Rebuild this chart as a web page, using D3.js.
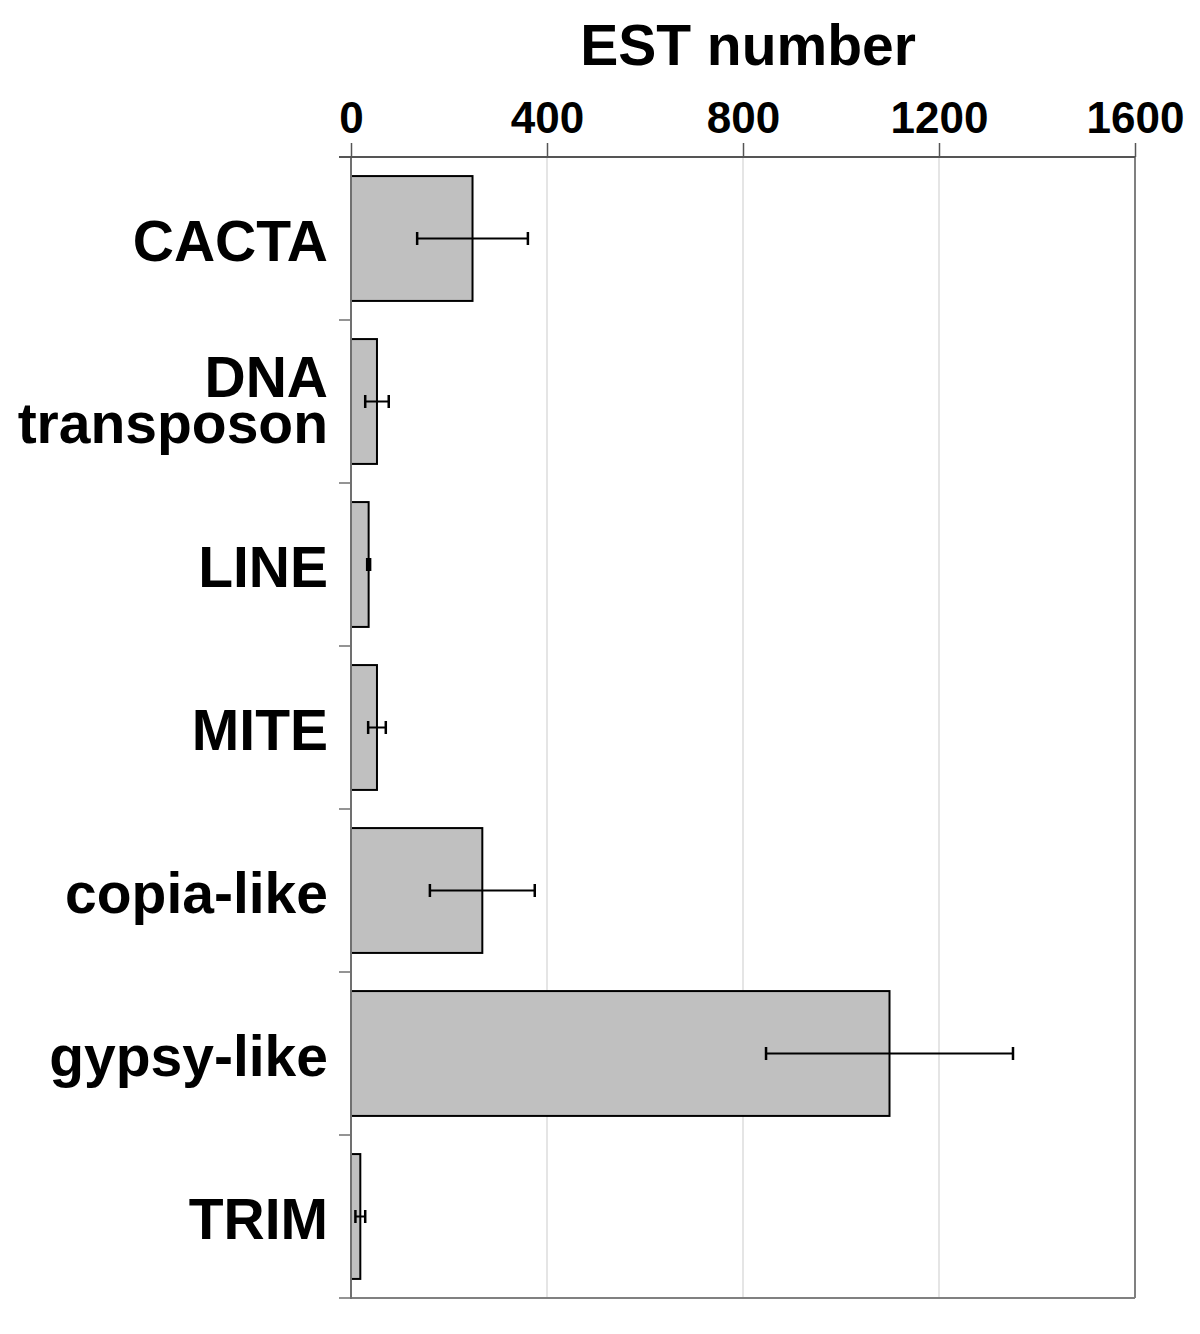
<!DOCTYPE html>
<html>
<head>
<meta charset="utf-8">
<script src="https://cdn.jsdelivr.net/npm/d3@7"></script>
<style>
  html, body { margin: 0; padding: 0; background: #fff; }
  svg { display: block; font-family: "Liberation Sans", Arial, sans-serif; }
</style>
</head>
<body>
<svg id="chart" width="1200" height="1334"></svg>
<script>
// ---- data ----
const categories = ["CACTA", "DNA transposon", "LINE", "MITE", "copia-like", "gypsy-like", "TRIM"];
const values = [248, 53, 36, 53, 268, 1099, 19];
const errors = [113, 24, 3, 18, 107, 252, 10];
const xTicks = [0, 400, 800, 1200, 1600];
const xTitle = "EST number";

// ---- layout ----
const svg = d3.select("#chart");
const pLeft = 351, pRight = 1135, pTop = 157, pBottom = 1298;

const x = d3.scaleLinear().domain([0, 1600]).range([pLeft, pRight]);
const y = d3.scaleBand().domain(categories).range([pTop, pBottom])
  .paddingInner(0.234).paddingOuter(0.117);

// gridlines
svg.append("g").selectAll("line")
  .data(xTicks.filter(d => d > 0 && d < 1600))
  .join("line")
  .attr("x1", d => x(d)).attr("x2", d => x(d))
  .attr("y1", pTop).attr("y2", pBottom)
  .attr("stroke", "#dcdcdc").attr("stroke-width", 1.5);

// border right and bottom
svg.append("line").attr("x1", pRight).attr("x2", pRight).attr("y1", pTop).attr("y2", pBottom)
  .attr("stroke", "#808080").attr("stroke-width", 2);
svg.append("line").attr("x1", pLeft).attr("x2", pRight).attr("y1", pBottom).attr("y2", pBottom)
  .attr("stroke", "#808080").attr("stroke-width", 2);

// bars
svg.append("g").selectAll("rect")
  .data(categories)
  .join("rect")
  .attr("x", x(0))
  .attr("y", d => y(d))
  .attr("width", (d, i) => x(values[i]) - x(0))
  .attr("height", y.bandwidth())
  .attr("fill", "#c0c0c0")
  .attr("stroke", "#000")
  .attr("stroke-width", 2);

// error bars
const eb = svg.append("g").attr("stroke", "#000").attr("stroke-width", 2);
categories.forEach((c, i) => {
  const cy = y(c) + y.bandwidth() / 2;
  const x1 = x(values[i] - errors[i]), x2 = x(values[i] + errors[i]);
  eb.append("line").attr("x1", x1).attr("x2", x2).attr("y1", cy).attr("y2", cy);
  eb.append("line").attr("x1", x1).attr("x2", x1).attr("y1", cy - 6.5).attr("y2", cy + 6.5).attr("stroke-width", 2.5);
  eb.append("line").attr("x1", x2).attr("x2", x2).attr("y1", cy - 6.5).attr("y2", cy + 6.5).attr("stroke-width", 2.5);
});

// left axis line + boundary ticks
svg.append("line").attr("x1", pLeft).attr("x2", pLeft).attr("y1", pTop).attr("y2", pBottom + 1)
  .attr("stroke", "#707070").attr("stroke-width", 2);
const bounds = categories.map(c => y(c) - y.step() * y.paddingInner() / 2).concat([pBottom]);
bounds[0] = pTop;
svg.append("g").selectAll("line").data(bounds).join("line")
  .attr("x1", pLeft - 12).attr("x2", pLeft)
  .attr("y1", d => d).attr("y2", d => d)
  .attr("stroke", "#707070").attr("stroke-width", 1.5);

// top axis
const xAxis = d3.axisTop(x).tickValues(xTicks).tickSize(14).tickPadding(10).tickFormat(d3.format("d"));
const gx = svg.append("g").attr("transform", `translate(0,${pTop})`).call(xAxis);
gx.select(".domain").attr("stroke", "#555").attr("stroke-width", 2)
  .attr("d", `M${pLeft - 12},0H${pRight}`);
gx.selectAll(".tick line").attr("stroke", "#555").attr("stroke-width", 1.5);
gx.selectAll(".tick text")
  .attr("fill", "#000")
  .style("font-size", "44px").style("font-weight", "bold")
  .style("font-family", "'Liberation Sans', Arial, sans-serif");

// x title
svg.append("text")
  .attr("x", 748).attr("y", 65)
  .attr("text-anchor", "middle")
  .style("font-size", "57px").style("font-weight", "bold")
  .text(xTitle);

// category labels
const lab = svg.append("g");
categories.forEach(c => {
  const lines = c.split(" ");
  const cy = y(c) + y.bandwidth() / 2;
  const lh = 46;
  const first = cy + 22.5 - (lines.length - 1) * lh / 2 - (lines.length > 1 ? 4 : 0);
  const t = lab.append("text")
    .attr("text-anchor", "end")
    .style("font-size", "57px").style("font-weight", "bold");
  lines.forEach((ln, j) => {
    t.append("tspan").attr("x", 328).attr("y", first + j * lh).text(ln);
  });
});
</script>
</body>
</html>
